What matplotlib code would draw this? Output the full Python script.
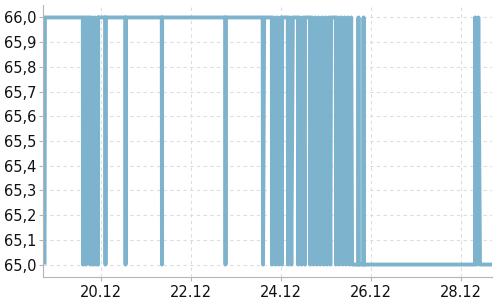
import pandas as pd
import matplotlib
matplotlib.use('Agg')
import matplotlib.pyplot as plt
import matplotlib.dates as mdates
from matplotlib.ticker import FuncFormatter

plt.rcParams['font.family'] = 'DejaVu Sans'

# hours after 18.12 00:00 and the value at that moment
hours = [
    17.9, 18.1,
    38.3, 38.4, 39.2, 40.0, 40.1,
    42.1, 42.2, 43.0, 43.8, 44.6, 45.4, 46.3, 46.4, 46.5,
    50.3, 50.4, 50.5,
    61.0, 61.1, 61.2,
    80.4, 80.5, 80.6,
    114.3, 114.4, 114.5,
    134.2, 134.4, 135.0,
    139.1, 139.2, 140.1, 141.0, 141.9, 142.8, 143.7, 144.5, 144.6,
    147.6, 147.7, 148.6, 149.5, 150.3,
    153.0, 153.1, 154.0, 154.9, 155.8, 156.7, 156.8,
    159.4, 159.5, 160.4, 161.3, 162.2, 163.1, 164.0, 164.9, 165.8,
    166.7, 167.6, 168.5, 169.4, 170.3, 170.7,
    173.2, 173.3, 174.2, 175.1, 176.0, 176.9, 177.8, 178.7, 179.6,
    180.5, 181.4, 181.9,
    185.2, 185.3, 185.4,
    187.9, 188.0, 188.1,
    247.4, 247.5, 248.3, 249.2, 250.1,
    256.5,
]
values = [
    65, 66,
    66, 65, 66, 65, 66,
    66, 65, 66, 65, 66, 65, 66, 65, 66,
    66, 65, 66,
    66, 65, 66,
    66, 65, 66,
    66, 65, 66,
    66, 65, 66,
    66, 65, 66, 65, 66, 65, 66, 65, 66,
    66, 65, 66, 65, 66,
    66, 65, 66, 65, 66, 65, 66,
    66, 65, 66, 65, 66, 65, 66, 65, 66,
    65, 66, 65, 66, 65, 66,
    66, 65, 66, 65, 66, 65, 66, 65, 66,
    65, 66, 65,
    65, 66, 65,
    65, 66, 65,
    65, 66, 65, 66, 65,
    65,
]
start = pd.Timestamp('2023-12-18')
view = (17.07, 256.5)

times = start + pd.to_timedelta(hours, unit='h')

fig = plt.figure(figsize=(5, 3), dpi=100)
ax = fig.add_axes([0.086, 0.077, 0.898, 0.906])

ax.plot(times, values, color='#7db3cc', linewidth=2.8,
        solid_joinstyle='round', solid_capstyle='butt')

ax.set_xlim(start + pd.Timedelta(hours=view[0]), start + pd.Timedelta(hours=view[1]))
ax.set_ylim(64.95, 66.05)
ax.set_yticks([65 + i / 10 for i in range(11)])
ax.yaxis.set_major_formatter(FuncFormatter(lambda v, p: f'{v:.1f}'.replace('.', ',')))
ax.xaxis.set_major_locator(mdates.DayLocator(bymonthday=range(2, 32, 2)))
ax.xaxis.set_major_formatter(mdates.DateFormatter('%d.%m'))

ax.grid(True, color='#dddddd', linestyle=(0, (3, 3)), linewidth=0.8)
ax.set_axisbelow(True)
for s in ['top', 'right']:
    ax.spines[s].set_visible(False)
for s in ['left', 'bottom']:
    ax.spines[s].set_color('#b5b5b5')
ax.tick_params(axis='both', colors='#b5b5b5', labelcolor='#111111', labelsize=10.5, length=3)
ax.tick_params(axis='y', pad=2)
ax.tick_params(axis='x', pad=3)

fig.savefig('out.png', dpi=100)
